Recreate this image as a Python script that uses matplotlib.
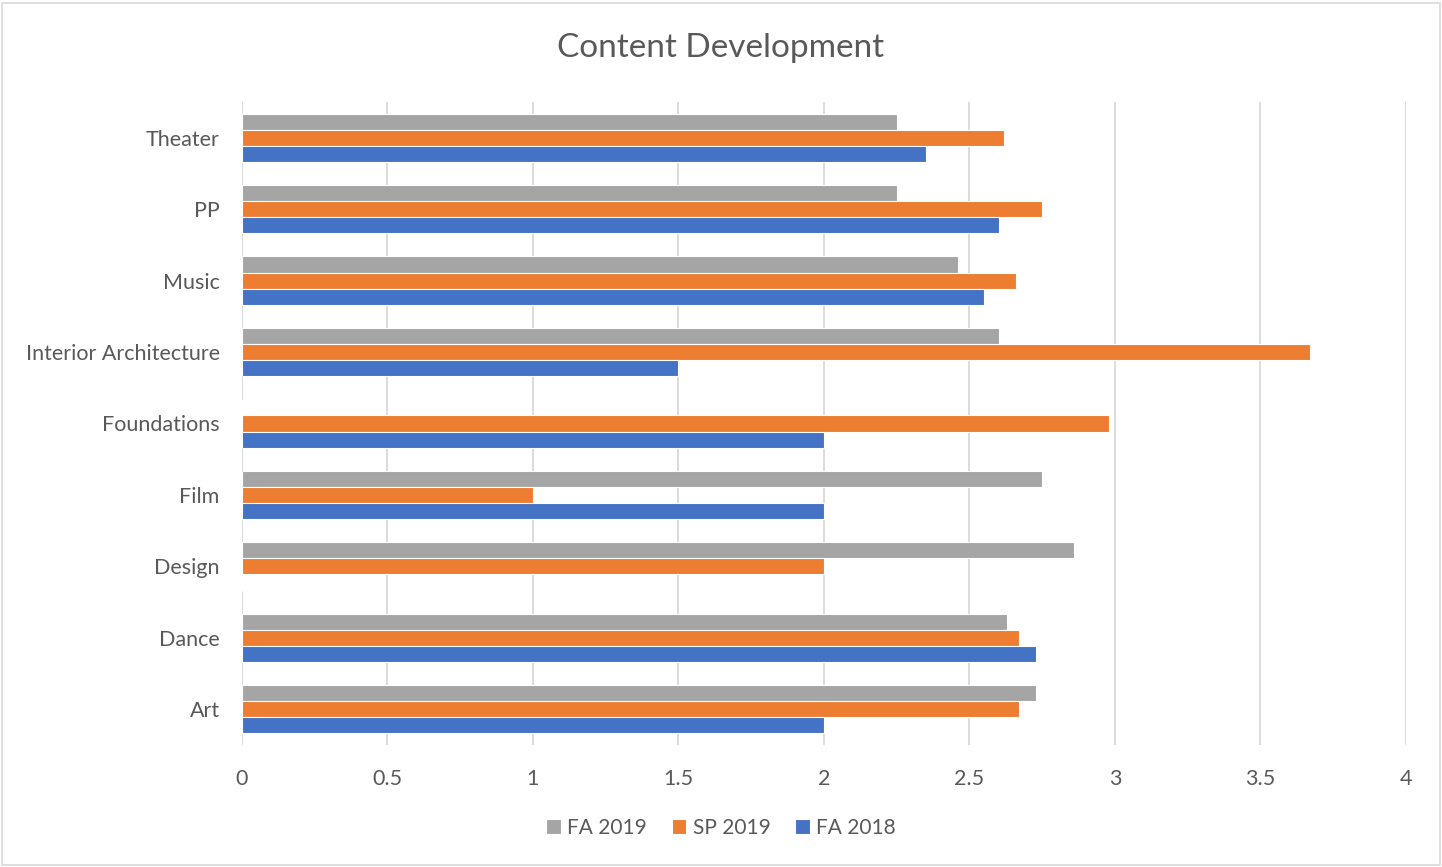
import numpy as np
import matplotlib
matplotlib.use("Agg")
import matplotlib.pyplot as plt
from matplotlib.patches import Rectangle

# data, bottom to top as in the chart
categories = ["Art", "Dance", "Design", "Film", "Foundations",
              "Interior Architecture", "Music", "PP", "Theater"]
fa_2019 = [2.73, 2.63, 2.86, 2.75, 0, 2.60, 2.46, 2.25, 2.25]
sp_2019 = [2.67, 2.67, 2.00, 1.00, 2.98, 3.67, 2.66, 2.75, 2.62]
fa_2018 = [2.00, 2.73, 0, 2.00, 2.00, 1.50, 2.55, 2.60, 2.35]
x_ticks = [0, 0.5, 1, 1.5, 2, 2.5, 3, 3.5, 4]

plt.rcParams['font.family'] = ['Lato', 'DejaVu Sans']
text_col = "#595959"

fig = plt.figure(figsize=(14.42, 8.67), dpi=100)
ax = fig.add_axes([0.1678, 0.1407, 0.8072, 0.7417])

y = np.arange(len(categories))
h = 0.225
ax.barh(y + h, fa_2019, height=h, color="#A5A5A5", edgecolor="white", linewidth=0.8, label="FA 2019")
ax.barh(y, sp_2019, height=h, color="#ED7D31", edgecolor="white", linewidth=0.8, label="SP 2019")
ax.barh(y - h, fa_2018, height=h, color="#4472C4", edgecolor="white", linewidth=0.8, label="FA 2018")

ax.set_xlim(0, 4)
ax.set_ylim(-0.5, len(categories) - 0.5)
ax.set_xticks(x_ticks)
ax.set_xticklabels([f"{t:g}" for t in x_ticks])
ax.set_yticks(y)
ax.set_yticklabels(categories)
ax.tick_params(axis="both", length=0, labelsize=15.5, colors=text_col)
ax.tick_params(axis="x", pad=17)
ax.tick_params(axis="y", pad=16)
ax.grid(axis="x", color="#D9D9D9", linewidth=1.3)
ax.set_axisbelow(True)
for s in ax.spines.values():
    s.set_visible(False)

fig.suptitle("Content Development", x=0.5, y=0.945, va="center", fontsize=24, color=text_col)

handles, labels = ax.get_legend_handles_labels()
leg = fig.legend(handles, labels, loc="center", bbox_to_anchor=(0.5, 0.045), ncol=3,
                 frameon=False, fontsize=15, handlelength=0.7, handleheight=0.7,
                 handletextpad=0.3, columnspacing=1.2)
for t in leg.get_texts():
    t.set_color(text_col)

# chart border
fig.patches.append(Rectangle((0.0015, 0.002), 0.997, 0.995, transform=fig.transFigure,
                             fill=False, edgecolor="#D9D9D9", linewidth=1.2))

fig.savefig("out.png", dpi=100)
